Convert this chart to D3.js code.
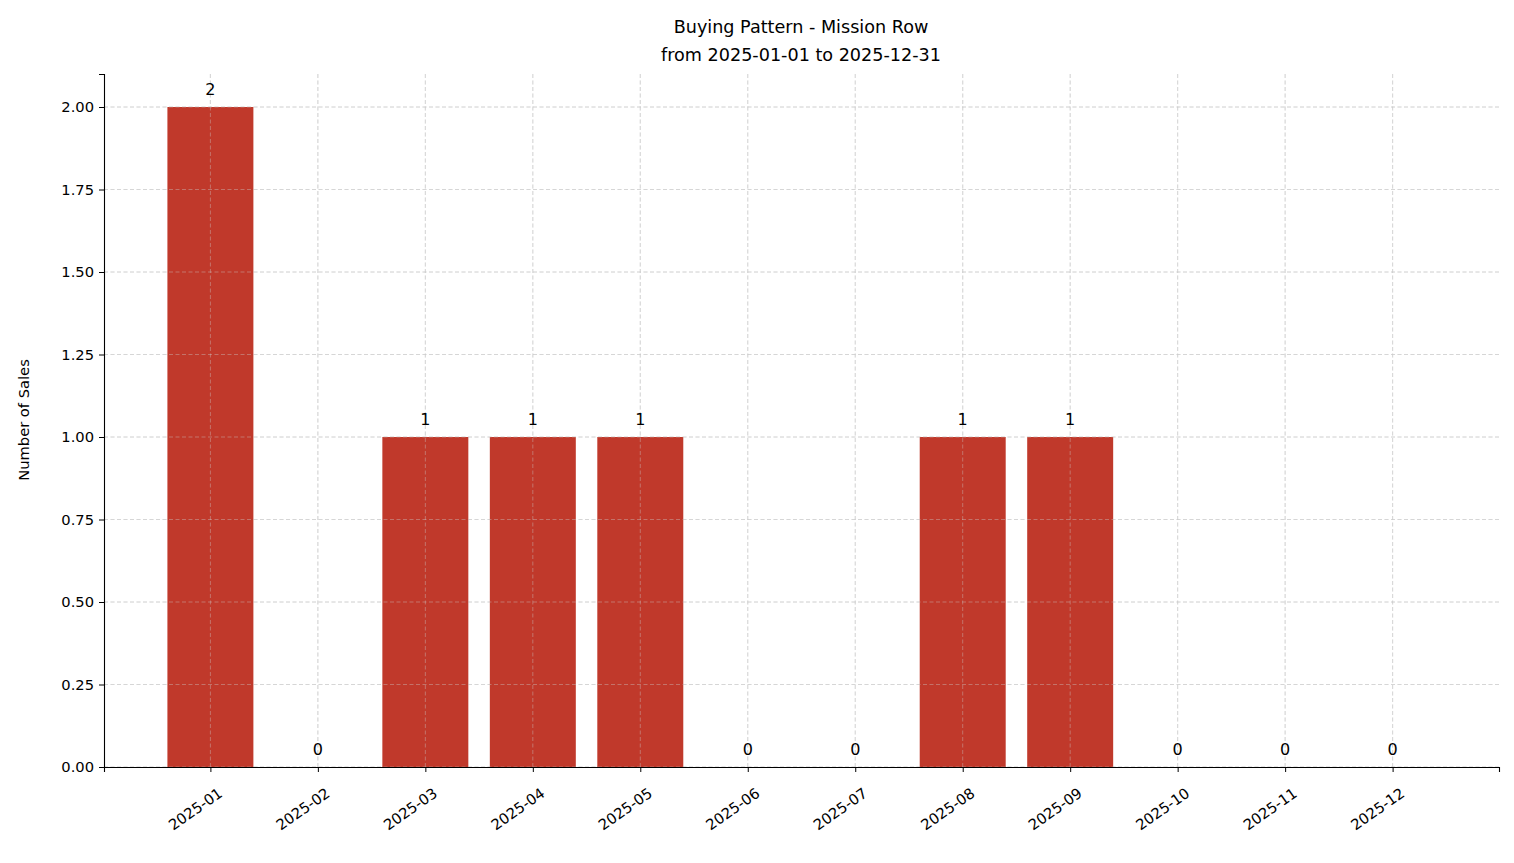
<!DOCTYPE html><html><head><meta charset="utf-8"><script src="https://cdn.jsdelivr.net/npm/d3@7"></script>
<style>body{margin:0;background:#fff}svg{font-family:"DejaVu Sans",sans-serif}</style></head><body><svg width="1514" height="863"></svg><script>
const months=["2025-01","2025-02","2025-03","2025-04","2025-05","2025-06","2025-07","2025-08","2025-09","2025-10","2025-11","2025-12"];
const sales=[2,0,1,1,1,0,0,1,1,0,0,0];
const yTicks=[0,0.25,0.5,0.75,1,1.25,1.5,1.75,2];
const svg=d3.select("svg");
const L=104,R=1499,T=74,B=767;
const x=d3.scaleLinear().domain([-0.99,11.99]).range([L,R]);
const y=d3.scaleLinear().domain([0,2.1]).range([B,T]);
const bw=x(0.4)-x(-0.4);
const g=svg.append("g");
g.selectAll(".gy").data(yTicks).join("line").attr("x1",L).attr("x2",R).attr("y1",d=>y(d)).attr("y2",d=>y(d)).attr("stroke","#ccc").attr("stroke-width",0.8).attr("stroke-dasharray","4,2.5").attr("opacity",0.8);
g.selectAll(".gx").data(months).join("line").attr("x1",(d,i)=>x(i)).attr("x2",(d,i)=>x(i)).attr("y1",T).attr("y2",B).attr("stroke","#ccc").attr("stroke-width",0.8).attr("stroke-dasharray","4,2.5").attr("opacity",0.8);
svg.selectAll("rect.bar").data(sales).join("rect").attr("x",(d,i)=>x(i)-bw/2).attr("width",bw).attr("y",d=>y(d)).attr("height",d=>B-y(d)).attr("fill","#c0392b");
// redraw grid over bars (matplotlib draws grid above? appears visible over bars)
svg.selectAll(".gx2").data(months).join("line").attr("x1",(d,i)=>x(i)).attr("x2",(d,i)=>x(i)).attr("y1",T).attr("y2",B).attr("stroke","#ccc").attr("stroke-width",0.8).attr("stroke-dasharray","4,2.5").attr("opacity",0.5);
svg.selectAll(".gy2").data(yTicks).join("line").attr("x1",L).attr("x2",R).attr("y1",d=>y(d)).attr("y2",d=>y(d)).attr("stroke","#ccc").attr("stroke-width",0.8).attr("stroke-dasharray","4,2.5").attr("opacity",0.5);
svg.selectAll("text.vl").data(sales).join("text").attr("x",(d,i)=>x(i)).attr("y",d=>y(d)-12).attr("text-anchor","middle").attr("font-size",16).text(d=>d);
const ya=svg.append("g").attr("transform",`translate(${L},0)`).call(d3.axisLeft(y).tickValues(yTicks).tickFormat(d3.format(".2f")).tickSize(5).tickPadding(5));
const xa=svg.append("g").attr("transform",`translate(0,${B})`).call(d3.axisBottom(x).tickValues(d3.range(12)).tickFormat(i=>months[i]).tickSize(5));
[ya,xa].forEach(a=>{a.selectAll("text").attr("font-size",14.7).attr("fill","#000").attr("font-family","DejaVu Sans");a.select(".domain").attr("stroke","#000").attr("stroke-width",1.1);a.selectAll(".tick line").attr("stroke","#000")});
xa.selectAll("text").attr("text-anchor","end").attr("dy",0).attr("transform",function(){return "translate(8,22) rotate(-35)"});
svg.append("text").attr("transform","translate(29,420) rotate(-90)").attr("text-anchor","middle").attr("font-size",14.7).text("Number of Sales");
svg.append("text").attr("x",801).attr("y",33).attr("text-anchor","middle").attr("font-size",17.6).text("Buying Pattern - Mission Row");
svg.append("text").attr("x",801).attr("y",61).attr("text-anchor","middle").attr("font-size",17.6).text("from 2025-01-01 to 2025-12-31");
</script></body></html>
